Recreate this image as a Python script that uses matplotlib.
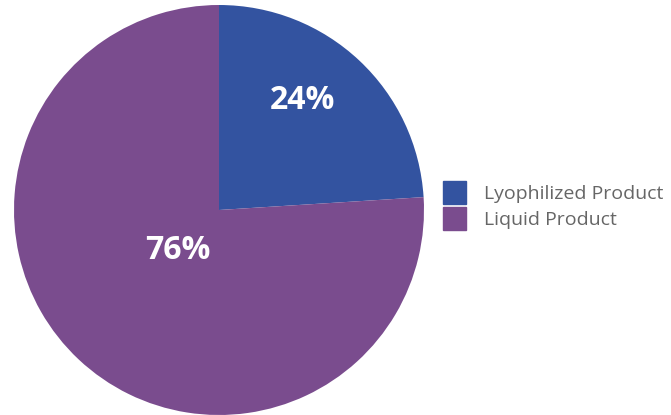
import numpy as np
import matplotlib.pyplot as plt
from matplotlib.patches import Patch

labels = ['Lyophilized Product', 'Liquid Product']
shares = [24, 76]
colors = ['#3353a0', '#7a4c8e']
label_dist = [0.67, 0.28]
label_turn = [6, -2]  # degrees away from the wedge bisector

plt.rcParams['font.family'] = ['Open Sans', 'DejaVu Sans']

fig = plt.figure(figsize=(6.71, 4.15), dpi=100)
W, H = 671, 415
cx, cy, r = 219, 210, 205
ax = fig.add_axes([(cx - r) / W, (H - cy - r) / H, 2 * r / W, 2 * r / H])

wedges, texts, autotexts = ax.pie(shares, colors=colors, startangle=90, counterclock=False,
                                  autopct='%d%%', radius=1,
                                  textprops=dict(color='white', fontsize=23, fontweight='bold'))
ax.set_xlim(-1, 1)
ax.set_ylim(-1, 1)
ax.set_aspect('equal')

for w, t, d, turn in zip(wedges, autotexts, label_dist, label_turn):
    mid = np.deg2rad((w.theta1 + w.theta2) / 2 + turn)
    t.set_position((d * np.cos(mid), d * np.sin(mid)))

handles = [Patch(facecolor=c, edgecolor=c) for c in colors]
fs = 14
leg = fig.legend(handles, labels, loc='upper left', bbox_to_anchor=(443 / W, 1 - 181 / H),
                 frameon=False, fontsize=fs, handlelength=1.18, handleheight=1.443,
                 handletextpad=0.95, labelspacing=0.15, borderpad=0, borderaxespad=0)
for t in leg.get_texts():
    t.set_color('#666666')

fig.savefig('out.png', dpi=100)
